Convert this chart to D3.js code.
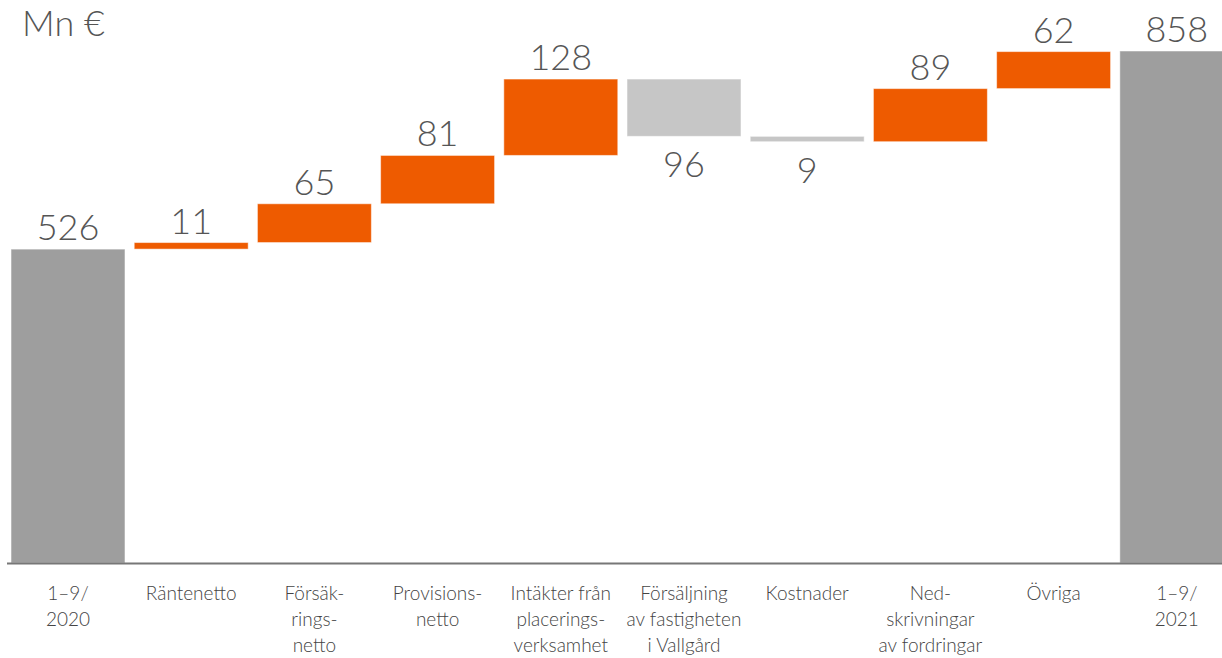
<!DOCTYPE html>
<html>
<head>
<meta charset="utf-8">
<script src="https://cdn.jsdelivr.net/npm/d3@7"></script>
<style>
  body { margin: 0; background: #fff; }
  #chart { width: 1222px; height: 658px; overflow: hidden; }
  text { font-family: Lato, "Open Sans", sans-serif; }
</style>
</head>
<body>
<div id="chart"></div>
<script>
// chart data
const categories = ["start", "ranta", "forsak", "prov", "plac", "vallg", "kost", "ned", "ovr", "end"];
const labels = [
    ["1–9/", "2020"],
    ["Räntenetto"],
    ["Försäk-", "rings-", "netto"],
    ["Provisions-", "netto"],
    ["Intäkter från", "placerings-", "verksamhet"],
    ["Försäljning", "av fastigheten", "i Vallgård"],
    ["Kostnader"],
    ["Ned-", "skrivningar", "av fordringar"],
    ["Övriga"],
    ["1–9/", "2021"]
];
const values = [526, 11, 65, 81, 128, -96, -9, 89, 62, 858];
const kinds = ["total", "delta", "delta", "delta", "delta", "delta", "delta", "delta", "delta", "total"];
const unitLabel = "Mn €";

const width = 1222, height = 658;
const baseY = 563;

const svg = d3.select("#chart").append("svg")
    .attr("width", width)
    .attr("height", height);

// x bands - last bar runs off the right edge like in the original
const x = d3.scaleBand()
    .domain(categories)
    .range([6.4, 1238.4])
    .paddingInner(0.075)
    .paddingOuter(0.0375);

const y = d3.scaleLinear()
    .domain([0, 858])
    .range([baseY, baseY - 512]);

// build waterfall segments
let running = 0;
const bars = categories.map((c, i) => {
    let lo, hi;
    if (kinds[i] === "total") {
        lo = 0; hi = values[i];
        running = values[i];
    } else {
        const next = running + values[i];
        lo = Math.min(running, next);
        hi = Math.max(running, next);
        running = next;
    }
    return {key: c, value: values[i], kind: kinds[i], lo: lo, hi: hi};
});

const color = d => d.kind === "total" ? "#9e9e9e" : (d.value < 0 ? "#c6c6c6" : "#ee5b00");

svg.append("g")
    .selectAll("rect")
    .data(bars)
    .enter().append("rect")
    .attr("x", d => x(d.key))
    .attr("y", d => y(d.hi))
    .attr("width", x.bandwidth())
    .attr("height", d => Math.max(1, y(d.lo) - y(d.hi)))
    .attr("fill", color)
    .attr("stroke", "#fff")
    .attr("stroke-opacity", 0.5)
    .attr("stroke-width", 1);

// value labels
svg.append("g")
    .selectAll("text")
    .data(bars)
    .enter().append("text")
    .attr("x", d => x(d.key) + x.bandwidth() / 2)
    .attr("y", d => d.value < 0 ? y(d.lo) + 41 : y(d.hi) - 9)
    .attr("text-anchor", "middle")
    .attr("font-size", 36)
    .attr("font-weight", 300)
    .attr("fill", "#555")
    .text(d => Math.abs(d.value));

// baseline
svg.append("line")
    .attr("x1", 7)
    .attr("x2", width)
    .attr("y1", baseY + 0.5)
    .attr("y2", baseY + 0.5)
    .attr("stroke", "#777")
    .attr("stroke-width", 2);

// category labels
const catG = svg.append("g")
    .selectAll("text")
    .data(categories)
    .enter().append("text")
    .attr("x", d => x(d) + x.bandwidth() / 2)
    .attr("y", 600)
    .attr("text-anchor", "middle")
    .attr("font-size", 19)
    .attr("font-weight", 300)
    .attr("fill", "#444");

catG.each(function(d, i) {
    d3.select(this).selectAll("tspan")
        .data(labels[i])
        .enter().append("tspan")
        .attr("x", x(d) + x.bandwidth() / 2)
        .attr("dy", (t, j) => j === 0 ? 0 : 26)
        .text(t => t);
});

// unit
svg.append("text")
    .attr("x", 22)
    .attr("y", 36)
    .attr("font-size", 36)
    .attr("font-weight", 300)
    .attr("fill", "#555")
    .text(unitLabel);
</script>
</body>
</html>
